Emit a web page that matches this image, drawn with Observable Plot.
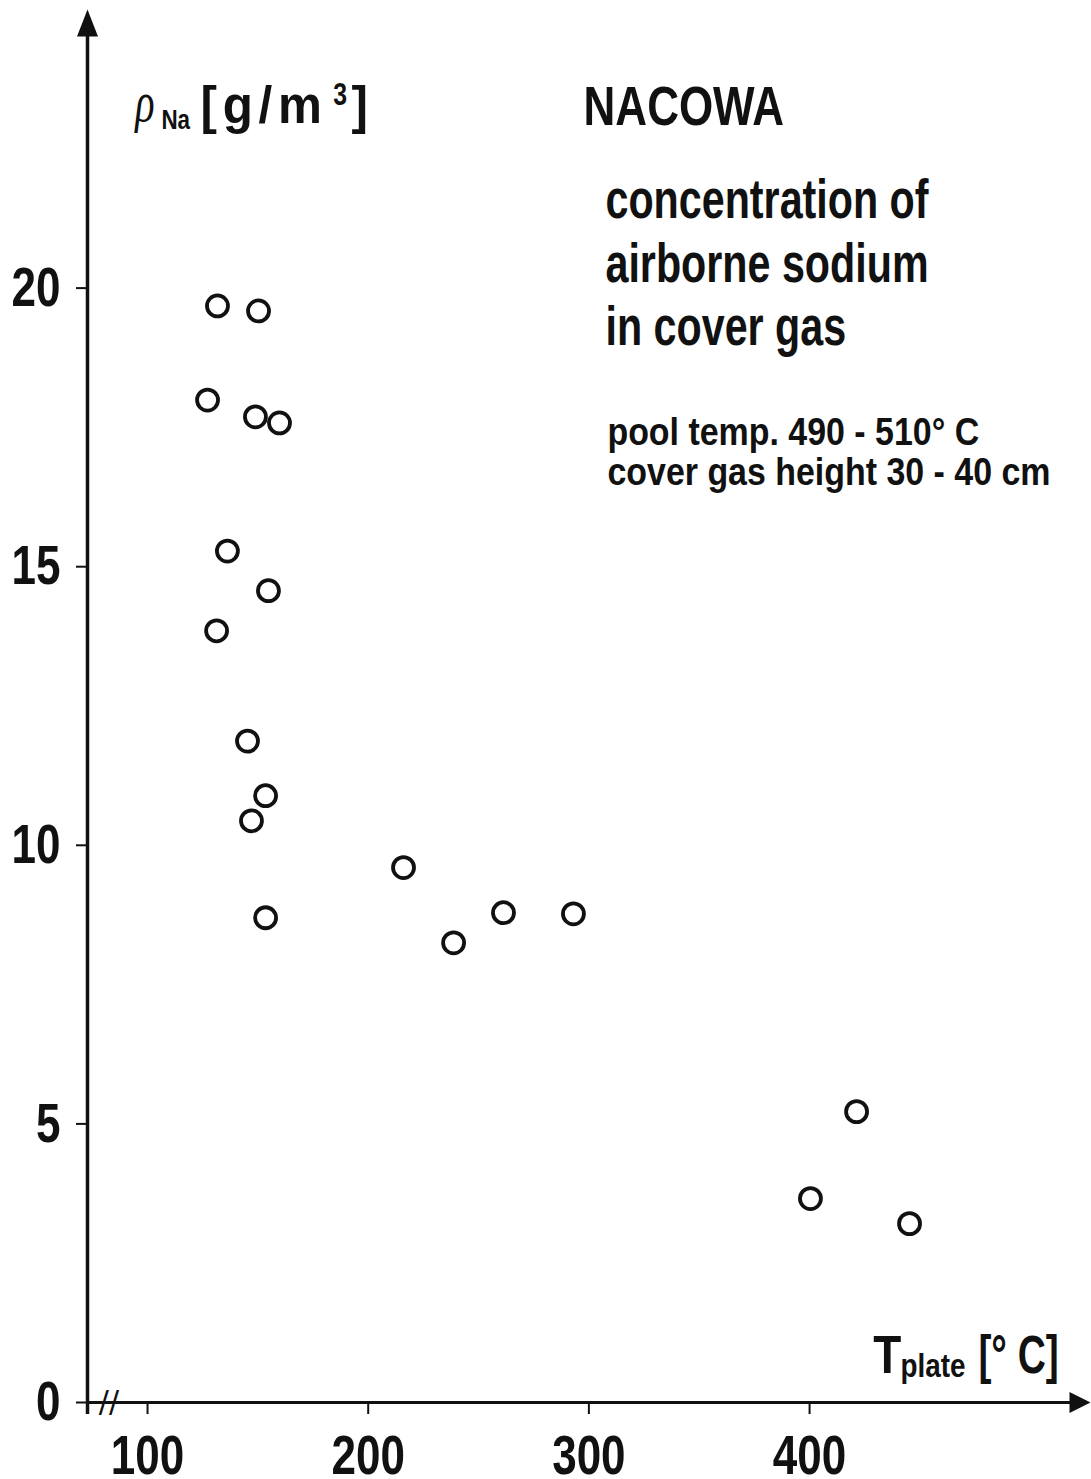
<!DOCTYPE html>
<html>
<head>
<meta charset="utf-8">
<script src="https://cdn.jsdelivr.net/npm/d3@7"></script>
<script src="https://cdn.jsdelivr.net/npm/@observablehq/plot@0.6"></script>
<style>
  html, body { margin: 0; padding: 0; background: #fff; }
  #chart svg { display: block; }
</style>
</head>
<body>
<div id="chart"></div>
<script>
// ---- data ----
const plateTemp = [131.7, 150.3, 127.2, 148.9, 159.8, 136.2, 154.8, 131.3, 145.3, 153.5, 147.1, 153.5, 216.0, 238.7, 261.3, 293.0, 421.3, 400.4, 445.3];
const sodiumConc = [19.68, 19.59, 17.99, 17.69, 17.58, 15.28, 14.57, 13.85, 11.87, 10.89, 10.44, 8.70, 9.60, 8.25, 8.79, 8.77, 5.22, 3.66, 3.21];
const xTicks = [100, 200, 300, 400];
const yTicks = [0, 5, 10, 15, 20];
const xDomain = [72.8, 527.3];
const yDomain = [0, 25];

const titleText = "NACOWA";
const subtitleText = "concentration of\nairborne sodium\nin cover gas";
const conditionsText = "pool temp. 490 - 510° C\ncover gas height 30 - 40 cm";

const points = plateTemp.map((t, i) => ({t, c: sodiumConc[i]}));

const FONT = "'Liberation Sans', Arial, sans-serif";

// filled arrowheads, tip at the symbol origin, pointing up
function arrowHead(len, half) {
  return {
    draw(ctx) {
      ctx.moveTo(0, 0);
      ctx.lineTo(half, len);
      ctx.lineTo(-half, len);
      ctx.closePath();
    }
  };
}

// horizontal condensing of each text mark (the reference uses a condensed face)
const squeeze = {
  "sq-ticks": 0.8, "sq-title": 0.8, "sq-sub": 0.75, "sq-cond": 0.87,
  "sq-unit": 0.95, "sq-na": 0.8, "sq-t": 0.85, "sq-plate": 0.82, "sq-deg": 0.72,
  "sq-rho": 0.72, "sq-sup": 0.8
};

const chart = Plot.plot({
  width: 1091,
  height: 1479,
  marginLeft: 87,
  marginRight: 1,
  marginTop: 9,
  marginBottom: 77,
  style: {fontFamily: FONT, fontWeight: "bold", color: "#111", background: "#fff"},
  x: {domain: xDomain},
  y: {domain: yDomain},
  marks: [
    // axis lines
    Plot.ruleX([xDomain[0]], {y1: -0.215, y2: yDomain[1] - 0.45, stroke: "#111", strokeWidth: 3.5}),
    Plot.ruleY([0], {x1: xDomain[0], x2: xDomain[1] - 8, stroke: "#111", strokeWidth: 3}),
    // arrowheads
    Plot.dot([{x: xDomain[0], y: yDomain[1]}], {x: "x", y: "y", symbol: arrowHead(27, 10.5), fill: "#111", stroke: "none"}),
    Plot.dot([{x: xDomain[1], y: 0}], {x: "x", y: "y", symbol: arrowHead(21, 10.5), rotate: 90, fill: "#111", stroke: "none"}),
    // axis break
    Plot.text(["//"], {x: 82.5, y: 0, text: d => d, fontSize: 30, fontWeight: "normal", fontFamily: "'DejaVu Sans', sans-serif"}),
    // ticks and labels
    Plot.axisY(yTicks, {tickSize: 11, tickPadding: 16, fontSize: 55, strokeWidth: 2, tickFormat: d => String(d), label: null}),
    Plot.axisX(xTicks, {tickSize: 12, tickPadding: 20, fontSize: 55, strokeWidth: 2, tickFormat: d => String(d), label: null}),
    // data
    Plot.dot(points, {x: "t", y: "c", r: 10.5, stroke: "#111", strokeWidth: 3.8, fill: "none"}),
    // y-axis label
    Plot.text(["ρ"], {x: 94.4, y: 23.0, text: d => d, textAnchor: "start", lineAnchor: "bottom", fontSize: 56, fontWeight: "normal", fontFamily: "'Liberation Serif', serif", fontStyle: "italic", className: "sq-rho"}),
    Plot.text(["Na"], {x: 106.3, y: 22.86, text: d => d, textAnchor: "start", lineAnchor: "bottom", fontSize: 28, className: "sq-na"}),
    Plot.text(["[g/m"], {x: 124.0, y: 22.97, text: d => d, textAnchor: "start", lineAnchor: "bottom", fontSize: 52, className: "sq-unit"}),
    Plot.text(["3"], {x: 184.2, y: 23.28, text: d => d, textAnchor: "start", lineAnchor: "bottom", fontSize: 31, className: "sq-sup"}),
    Plot.text(["]"], {x: 192.4, y: 22.97, text: d => d, textAnchor: "start", lineAnchor: "bottom", fontSize: 52, className: "sq-unit"}),
    // x-axis label
    Plot.text(["T"], {x: 428.9, y: 0.538, text: d => d, textAnchor: "start", lineAnchor: "bottom", fontSize: 54, className: "sq-t"}),
    Plot.text(["plate"], {x: 441.2, y: 0.45, text: d => d, textAnchor: "start", lineAnchor: "bottom", fontSize: 34, className: "sq-plate"}),
    Plot.text(["[° C]"], {x: 476.5, y: 0.538, text: d => d, textAnchor: "start", lineAnchor: "bottom", fontSize: 54, className: "sq-deg"}),
    // annotations
    Plot.text([titleText], {x: 297.6, y: 22.92, text: d => d, textAnchor: "start", lineAnchor: "bottom", fontSize: 55, className: "sq-title"}),
    Plot.text([subtitleText], {x: 307.5, y: 18.97, text: d => d, textAnchor: "start", lineAnchor: "bottom", fontSize: 55, lineHeight: 1.155, className: "sq-sub"}),
    Plot.text([conditionsText], {x: 308.4, y: 16.46, text: d => d, textAnchor: "start", lineAnchor: "bottom", fontSize: 39, lineHeight: 1.03, className: "sq-cond"})
  ]
});

function condense(textEl, s) {
  const tr = textEl.getAttribute("transform");
  if (tr && tr.includes("translate")) {
    textEl.setAttribute("transform", `${tr} scale(${s},1)`);
  } else {
    const x = parseFloat(textEl.getAttribute("x")) || 0;
    textEl.setAttribute("x", 0);
    textEl.setAttribute("transform", `translate(${x},0) scale(${s},1)${tr ? " " + tr : ""}`);
  }
}
chart.querySelectorAll('g[aria-label$="tick label"] text').forEach(t => condense(t, squeeze["sq-ticks"]));
for (const [cls, s] of Object.entries(squeeze)) {
  chart.querySelectorAll(`.${cls} text, text.${cls}`).forEach(t => condense(t, s));
}
chart.querySelectorAll(".sq-unit text").forEach(t => t.setAttribute("letter-spacing", "6"));

document.getElementById("chart").appendChild(chart);
</script>
</body>
</html>
